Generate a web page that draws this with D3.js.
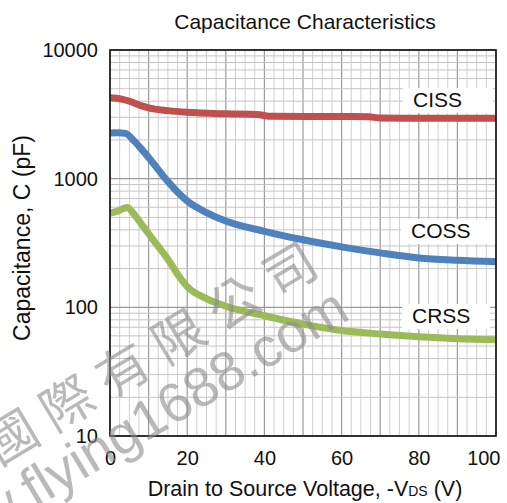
<!DOCTYPE html>
<html>
<head>
<meta charset="utf-8">
<script src="https://cdn.jsdelivr.net/npm/d3@7"></script>
<style>
  html, body { margin: 0; padding: 0; background: #fff; }
  svg { display: block; font-family: "Liberation Sans", Arial, sans-serif; }
</style>
</head>
<body>
<svg id="chart" width="507" height="503"></svg>
<script>
// ---- data ----
const voltageTicks = [0, 20, 40, 60, 80, 100];
const capTicks = [10, 100, 1000, 10000];
const seriesNames = ["CISS", "COSS", "CRSS"];

const cissV = [0, 3, 5, 8, 10, 15, 20, 30, 38, 42, 60, 67, 70, 80, 90, 100];
const cissC = [4250, 4150, 4000, 3700, 3550, 3380, 3280, 3190, 3150, 3050, 3040, 3030, 2960, 2950, 2950, 2950];

const cossV = [0, 2, 4, 6, 8, 10, 12, 14, 16, 18, 20, 25, 30, 40, 50, 60, 70, 80, 90, 100];
const cossC = [2260, 2270, 2250, 2000, 1720, 1460, 1230, 1030, 880, 760, 670, 545, 468, 390, 335, 295, 265, 242, 232, 226];

const crssV = [0, 2, 4.5, 6, 8, 10, 12, 15, 18, 20, 25, 30, 40, 50, 60, 70, 80, 90, 100];
const crssC = [540, 560, 598, 540, 450, 373, 311, 236, 172, 145, 117, 102, 86, 74, 66, 62, 59, 57, 56];

const watermarkCN = "國際有限公司";
const watermarkURL = "www.flying1688.com";

// ---- layout ----
const svg = d3.select("#chart");
const L = 110, R = 496, T = 50, B = 436;
const x = d3.scaleLinear().domain([0, 100]).range([L, R]);
const y = d3.scaleLog().domain([10, 10000]).range([B, T]);

// title
svg.append("text").attr("x", 305).attr("y", 29).attr("text-anchor", "middle")
  .attr("font-size", 21).attr("fill", "#111").text("Capacitance Characteristics");

// grid
const g = svg.append("g");
d3.range(0, 100.001, 2.5).forEach(v => {
  const major = Math.abs(v % 10) < 1e-6;
  g.append("line").attr("x1", x(v)).attr("x2", x(v)).attr("y1", T).attr("y2", B)
    .attr("stroke", major ? "#9a9a9a" : "#cfcfcf").attr("stroke-width", major ? 1.2 : 1);
});
y.ticks().forEach(c => {
  const lg = Math.log10(c);
  const major = Math.abs(lg - Math.round(lg)) < 1e-6;
  g.append("line").attr("x1", L).attr("x2", R).attr("y1", y(c)).attr("y2", y(c))
    .attr("stroke", major ? "#9a9a9a" : "#c4c4c4").attr("stroke-width", major ? 1.4 : 1);
});

// curves
svg.append("clipPath").attr("id", "clip").append("rect")
  .attr("x", L).attr("y", T).attr("width", R - L).attr("height", B - T);
const line = d3.line().x(d => x(d[0])).y(d => y(d[1])).curve(d3.curveMonotoneX);
const series = [
  { name: seriesNames[0], v: cissV, c: cissC, color: "#C0504D" },
  { name: seriesNames[1], v: cossV, c: cossC, color: "#4F81BD" },
  { name: seriesNames[2], v: crssV, c: crssC, color: "#9BBB59" }
];
const curves = svg.append("g").attr("clip-path", "url(#clip)");
series.forEach(s => {
  curves.append("path").datum(s.v.map((v, i) => [v, s.c[i]]))
    .attr("d", line).attr("fill", "none").attr("stroke", s.color)
    .attr("stroke-width", 7);
});

// series labels with white boxes
const labelPos = [{ x: 413, y: 107 }, { x: 411, y: 238 }, { x: 412, y: 323 }];
const boxW = [90, 95, 88];
series.forEach((s, i) => {
  const p = labelPos[i];
  svg.append("rect").attr("x", p.x - 10).attr("y", p.y - 19).attr("width", boxW[i]).attr("height", 25)
    .attr("fill", "#fff");
  svg.append("text").attr("x", p.x).attr("y", p.y).attr("font-size", 21).attr("fill", "#111").text(s.name);
});

// frame
svg.append("rect").attr("x", L).attr("y", T).attr("width", R - L).attr("height", B - T)
  .attr("fill", "none").attr("stroke", "#111").attr("stroke-width", 1.6);

// axes
const xAxis = svg.append("g").attr("transform", `translate(0,${B})`)
  .call(d3.axisBottom(x).tickValues(voltageTicks).tickSize(0).tickPadding(0).tickFormat(d3.format("d")));
xAxis.select(".domain").remove();
xAxis.selectAll("text").attr("font-size", 20).attr("fill", "#111").attr("dy", null).attr("y", 29)
  .attr("font-family", "Liberation Sans, Arial, sans-serif")
  .attr("text-anchor", d => d === 100 ? "end" : "middle")
  .attr("dx", d => d === 100 ? 4 : 0);

const yAxis = svg.append("g").attr("transform", `translate(${L},0)`)
  .call(d3.axisLeft(y).tickValues(capTicks).tickSize(0).tickPadding(12).tickFormat(d3.format("d")));
yAxis.select(".domain").remove();
yAxis.selectAll("text").attr("font-size", 20).attr("fill", "#111")
  .attr("font-family", "Liberation Sans, Arial, sans-serif");

// axis titles
const xt = svg.append("text").attr("x", 305).attr("y", 496).attr("text-anchor", "middle")
  .attr("font-size", 21.5).attr("fill", "#111");
xt.append("tspan").text("Drain to Source Voltage, -V");
xt.append("tspan").attr("font-size", 14).text("DS");
xt.append("tspan").text(" (V)");

svg.append("text").attr("transform", "translate(30,238) rotate(-90)").attr("text-anchor", "middle")
  .attr("font-size", 23).attr("fill", "#111").text("Capacitance, C (pF)");

// watermark
svg.append("text").attr("transform", "translate(166,366) rotate(-31)").attr("text-anchor", "middle")
  .attr("font-family", "Noto Sans CJK TC, sans-serif").attr("font-size", 52)
  .attr("letter-spacing", 13).attr("fill", "#8a8a8a").attr("fill-opacity", 0.6)
  .text(watermarkCN);
svg.append("text").attr("transform", "translate(352,318) rotate(-31)").attr("text-anchor", "end")
  .attr("font-size", 55).attr("fill", "#8a8a8a").attr("fill-opacity", 0.6)
  .text(watermarkURL);
</script>
</body>
</html>
